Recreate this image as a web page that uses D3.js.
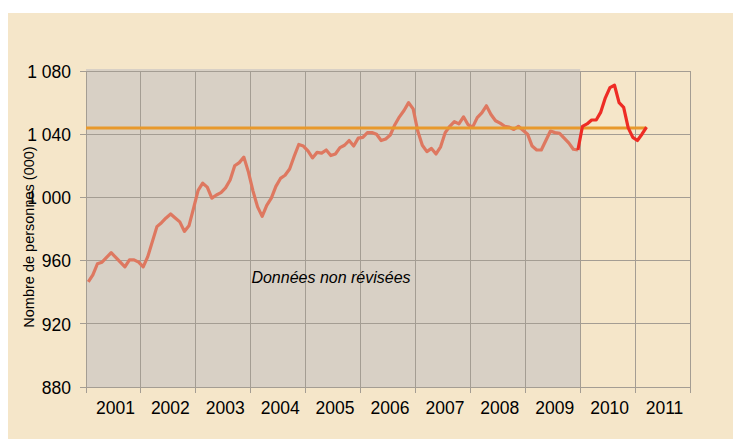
<!DOCTYPE html>
<html lang="fr">
<head>
  <meta charset="UTF-8">
  <title>Nombre de personnes (000)</title>
  <style>
    html, body { margin: 0; background: #fff; }
    text { font-family: 'Liberation Sans', Arial, sans-serif; fill: #000; }
  </style>
  <script src="https://cdn.jsdelivr.net/npm/d3@7/dist/d3.min.js"></script>
</head>
<body>
  <script>
    // données
    const annees = ['2001', '2002', '2003', '2004', '2005', '2006', '2007', '2008', '2009', '2010', '2011']
    const yTicks = [880, 920, 960, 1000, 1040, 1080]
    // séries mensuelles, 2001-2009 (non révisées)
    const nonRevisees = [
      946.5, 951, 958, 959, 962, 965, 962, 959, 956, 960.5, 960.5, 959,
      956, 962.5, 972, 981.5, 984, 987, 989.5, 987, 984.5, 978.5, 982, 993,
      1004.5, 1009, 1006.5, 999.5, 1001.5, 1003, 1006, 1011, 1020, 1022, 1025.5, 1016,
      1004, 994, 988, 995, 999.5, 1007, 1012, 1014, 1018, 1026, 1033.5, 1032.5,
      1029.5, 1025, 1028.5, 1028, 1030, 1026.5, 1027.5, 1031.5, 1033, 1036, 1032.5, 1037.5,
      1038, 1041, 1041, 1040, 1036, 1037, 1039.5, 1046, 1051, 1055, 1060, 1056,
      1042, 1033, 1029, 1031, 1027.5, 1032, 1041, 1045, 1048, 1046.5, 1051, 1046,
      1044.5, 1050.5, 1053.5, 1058, 1052.5, 1048.5, 1047, 1045, 1044.5, 1043, 1045, 1042.5,
      1040, 1032.5, 1030, 1030, 1036, 1042, 1041, 1040.5, 1037.5, 1034.5, 1030.5, 1030
    ]
    // 2010 et début 2011
    const recentes = [1045, 1046.5, 1049, 1049, 1054, 1063, 1069.5, 1071, 1060, 1057, 1044, 1038, 1036, 1040, 1044.5]
    const moyenne = 1044

    const width = 733
    const height = 439
    const margin = { left: 86, right: 43, top: 71, bottom: 52 }

    const svg = d3.select('body').append('svg')
      .attr('width', width)
      .attr('height', height)

    // fond crème
    svg.append('rect')
      .attr('x', 8).attr('y', 13)
      .attr('width', width - 8).attr('height', height - 13)
      .attr('fill', '#F5E6C9')

    const nMois = annees.length * 12
    const x = d3.scaleLinear()
      .domain([0, nMois])
      .range([margin.left, width - margin.right])
    const y = d3.scaleLinear()
      .domain([880, 1080])
      .range([height - margin.bottom, margin.top])

    // zone grisée (données non révisées)
    svg.append('rect')
      .attr('x', x(0))
      .attr('y', y(1080) - 2)
      .attr('width', x(nonRevisees.length) - x(0))
      .attr('height', y(880) - y(1080) + 2)
      .attr('fill', '#D8D0C5')

    // grille
    const gridColor = '#A49D93'
    svg.append('g')
      .selectAll('line')
      .data(yTicks)
      .join('line')
      .attr('x1', x(0) - 6)
      .attr('x2', x(nMois))
      .attr('y1', d => y(d))
      .attr('y2', d => y(d))
      .attr('stroke', gridColor)
      .attr('stroke-width', 1)
      .attr('shape-rendering', 'crispEdges')

    const vTicks = d3.range(0, nMois + 1, 12)
    svg.append('g')
      .selectAll('line')
      .data(vTicks)
      .join('line')
      .attr('x1', d => x(d))
      .attr('x2', d => x(d))
      .attr('y1', y(1080))
      .attr('y2', y(880) + 6)
      .attr('stroke', gridColor)
      .attr('stroke-width', 1)
      .attr('shape-rendering', 'crispEdges')

    // axe Y
    const yAxis = d3.axisLeft(y)
      .tickValues(yTicks)
      .tickSize(0)
      .tickPadding(15)
      .tickFormat(d => d3.format(',')(d).replace(',', ' '))
    const gy = svg.append('g')
      .attr('transform', `translate(${margin.left}, 0)`)
      .call(yAxis)
    gy.select('.domain').remove()
    gy.selectAll('text')
      .attr('font-size', 17.5)
      .attr('dy', '0.36em')
      .style('font-family', "'Liberation Sans', Arial, sans-serif")
      .attr('fill', '#000')

    // étiquettes des années
    svg.append('g')
      .selectAll('text')
      .data(annees)
      .join('text')
      .attr('x', (d, i) => x(i * 12 + 6) + 2)
      .attr('y', y(880) + 27)
      .attr('text-anchor', 'middle')
      .attr('font-size', 17.5)
      .text(d => d)

    // titre de l'axe Y
    svg.append('text')
      .attr('transform', `translate(34, 237) rotate(-90)`)
      .attr('text-anchor', 'middle')
      .attr('font-size', 14.5)
      .text('Nombre de personnes (000)')

    // lignes
    const line = d3.line()
      .x(d => x(d.mois + 0.5))
      .y(d => y(d.valeur))

    const serieGrise = nonRevisees.map((v, i) => ({ mois: i, valeur: v }))
    const serieRouge = [serieGrise[serieGrise.length - 1]]
      .concat(recentes.map((v, i) => ({ mois: nonRevisees.length + i, valeur: v })))
    const dernier = nonRevisees.length + recentes.length - 1

    svg.append('path')
      .datum(serieGrise)
      .attr('d', line)
      .attr('fill', 'none')
      .attr('stroke', '#DE7860')
      .attr('stroke-width', 3.2)
      .attr('stroke-linejoin', 'round')

    svg.append('line')
      .attr('x1', x(0))
      .attr('x2', x(dernier + 0.5))
      .attr('y1', y(moyenne))
      .attr('y2', y(moyenne))
      .attr('stroke', '#E8992C')
      .attr('stroke-width', 3)

    svg.append('path')
      .datum(serieRouge)
      .attr('d', line)
      .attr('fill', 'none')
      .attr('stroke', '#EE2C25')
      .attr('stroke-width', 3.2)
      .attr('stroke-linejoin', 'round')

    // annotation
    svg.append('text')
      .attr('x', 331)
      .attr('y', 283)
      .attr('text-anchor', 'middle')
      .attr('font-size', 16)
      .attr('font-style', 'italic')
      .attr('fill', '#333')
      .text('Données non révisées')
  </script>
</body>
</html>
